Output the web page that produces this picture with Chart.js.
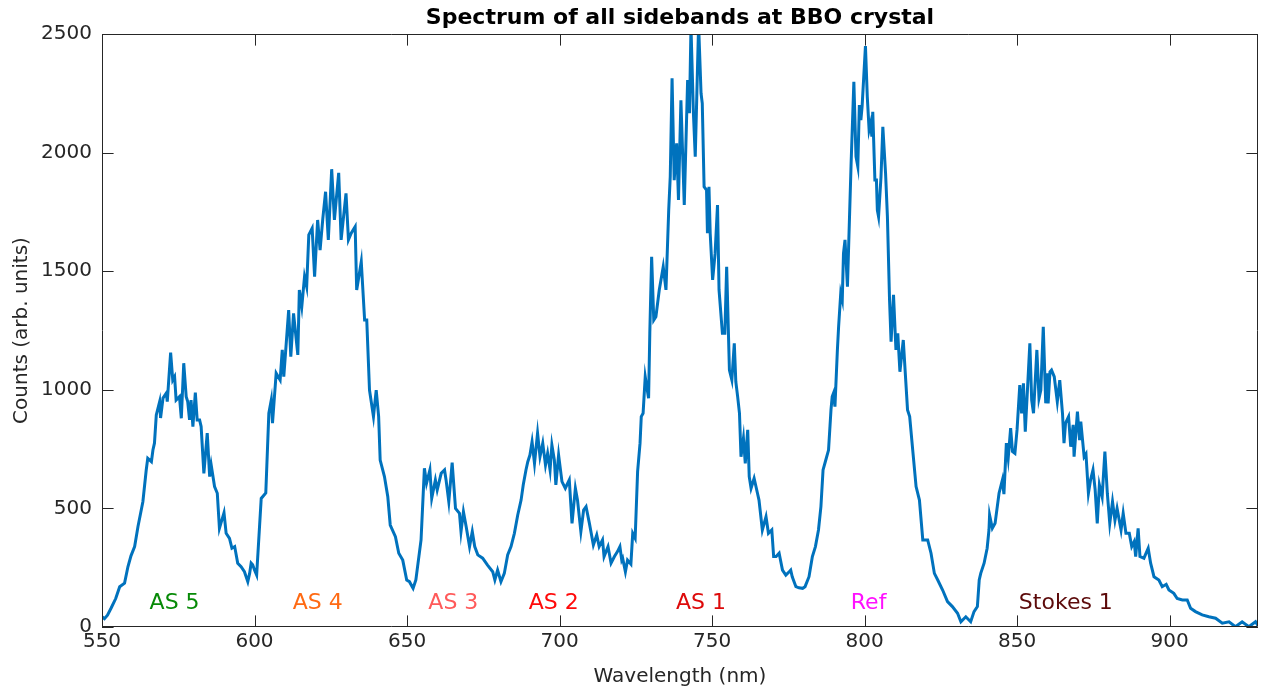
<!DOCTYPE html>
<html><head><meta charset="utf-8">
<script src="https://cdn.jsdelivr.net/npm/chart.js@4/dist/chart.umd.min.js"></script>
<style>html,body{margin:0;padding:0;background:#fff;overflow:hidden}#wrap{width:1263px;height:694px}</style>
</head><body><div id="wrap"><canvas id="c" width="1263" height="694"></canvas></div>
<script>
const wavelengths = [550.0,550.8,551.8,553.0,554.5,555.8,557.4,558.5,559.5,560.7,561.8,563.4,564.5,565.0,566.2,566.7,567.2,567.8,568.9,569.2,570.0,571.1,571.4,572.5,573.2,573.8,574.3,575.4,576.0,576.8,577.6,578.1,578.7,579.2,579.8,580.6,581.2,582.0,582.5,583.4,584.5,585.3,585.8,586.9,587.8,588.5,590.0,590.7,591.8,592.6,593.5,594.5,595.6,596.7,597.8,598.4,598.9,599.4,600.0,600.7,602.2,603.7,604.7,605.5,605.9,607.1,608.4,609.1,609.6,610.4,611.2,611.9,612.8,614.2,614.7,615.5,616.4,617.1,617.8,618.9,619.7,620.7,621.5,622.4,623.3,624.2,625.3,626.2,627.6,628.4,630.0,630.8,631.7,633.0,633.5,635.0,636.1,636.8,637.7,639.0,639.9,640.7,641.2,642.6,643.7,644.5,646.2,647.3,648.6,649.9,650.8,651.7,652.0,652.9,654.6,655.7,656.4,657.5,658.1,659.3,659.9,661.2,662.3,662.8,663.7,664.8,665.9,667.2,667.7,668.5,669.4,670.5,671.4,672.2,673.2,674.8,676.4,678.1,678.8,679.7,680.8,681.9,683.0,684.1,685.2,686.3,687.4,688.1,689.0,689.6,690.3,691.0,691.8,692.8,693.6,694.5,695.4,696.1,696.9,697.5,698.3,698.8,699.7,700.8,701.9,703.2,704.1,705.2,705.9,707.0,707.9,708.7,709.8,711.1,712.2,713.0,714.1,714.6,715.9,716.9,718.0,719.0,719.8,720.4,720.7,721.6,722.3,723.4,724.0,724.8,725.6,726.4,726.8,727.4,728.1,729.2,729.6,730.2,730.9,731.6,732.7,734.0,734.9,735.8,736.3,736.9,737.6,738.4,739.0,739.8,740.9,742.0,742.6,743.1,743.9,744.5,745.0,745.6,746.4,746.8,747.4,748.2,748.5,749.0,749.4,750.2,751.0,751.8,752.3,753.4,754.2,754.8,755.7,756.5,757.3,757.8,758.4,759.0,759.5,760.3,760.9,761.7,762.2,762.8,763.8,764.9,765.4,766.5,767.7,768.5,769.6,770.2,771.0,772.0,773.1,774.2,775.3,775.8,776.3,777.5,778.5,779.7,780.5,781.8,782.9,783.9,784.9,785.7,786.4,787.3,788.2,789.0,789.4,789.8,790.3,791.1,791.5,792.2,792.7,793.1,793.6,794.4,795.6,796.5,797.2,797.8,798.3,798.8,799.2,800.3,800.9,801.5,802.0,802.4,802.7,803.4,803.9,804.2,804.6,805.4,806.0,806.9,807.5,808.2,808.7,809.5,810.3,810.9,811.6,812.7,813.3,814.1,814.8,815.8,816.9,818.0,819.1,820.7,821.8,822.9,824.0,825.6,827.2,828.8,830.5,831.6,833.2,834.8,835.9,837.0,837.6,838.1,839.2,840.2,840.8,841.0,841.9,842.8,844.1,845.2,845.7,846.5,847.1,847.9,848.5,849.3,850.0,850.9,851.5,852.1,852.7,854.2,854.8,855.4,856.5,857.2,857.8,858.6,859.4,859.9,860.2,860.8,861.3,862.2,863.2,864.0,864.9,865.4,865.9,866.9,867.6,868.4,868.7,869.8,870.5,870.9,872.0,872.6,873.4,874.1,874.9,875.6,876.3,877.0,877.9,878.8,879.6,880.4,881.3,882.1,882.8,884.1,884.8,885.7,886.8,887.6,888.4,888.9,889.7,890.3,891.6,893.0,893.8,894.9,896.5,897.6,898.9,899.8,901.4,902.5,904.2,905.8,906.9,908.5,910.7,912.9,915.1,917.3,919.5,921.6,923.8,926.0,928.2,929.0];
const counts = [43,35,50,80,120,170,185,254,300,339,424,528,662,711,697,746,775,894,950,881,965,986,950,1157,1041,1055,957,971,880,1112,971,950,873,957,845,988,873,873,845,648,817,634,683,592,564,416,482,395,374,332,339,269,254,233,191,226,269,262,240,219,542,565,901,957,859,1070,1041,1168,1055,1196,1336,1140,1322,1147,1421,1350,1477,1435,1653,1681,1477,1716,1589,1723,1835,1632,1930,1716,1915,1632,1828,1632,1660,1688,1421,1540,1294,1294,999,887,999,887,704,634,549,430,381,311,282,198,191,170,163,198,367,669,606,662,543,620,578,648,662,620,528,693,500,479,402,486,423,339,402,339,304,290,261,233,198,240,191,226,304,339,395,472,535,599,662,697,725,781,690,817,718,775,683,732,662,767,704,599,725,613,585,620,437,585,535,402,493,507,437,346,388,339,367,297,339,269,297,318,339,282,290,233,282,265,395,374,655,775,887,901,1055,964,1238,1561,1294,1308,1421,1519,1421,1758,1898,2313,1884,2039,1800,2221,1779,2306,2166,2530,2166,1983,2236,2540,2250,2208,1856,1842,1660,1856,1660,1463,1574,1779,1421,1238,1238,1519,1083,1041,1196,1034,971,901,718,796,690,831,634,585,627,564,535,409,465,395,409,297,297,311,240,219,233,240,212,170,165,163,170,212,297,339,409,507,662,704,746,915,971,985,929,1168,1266,1407,1379,1575,1632,1435,1955,2299,1983,1941,2201,2137,2194,2449,2236,2096,2124,2067,2172,1884,1884,1758,1730,1898,2109,1912,1730,1379,1203,1400,1168,1238,1076,1210,1083,915,887,746,592,535,367,367,311,226,198,156,107,86,58,22,43,22,65,86,198,226,269,332,409,472,416,437,564,620,560,775,711,838,740,732,831,1020,901,1027,823,1196,957,901,1168,964,999,1266,943,1070,943,1076,1083,1055,950,1041,901,775,859,887,760,852,718,908,788,866,718,730,564,620,662,580,437,599,549,739,564,437,528,450,500,409,479,395,395,339,360,297,416,297,290,332,269,212,198,170,180,156,142,120,114,114,79,65,51,43,37,16,22,1,22,1,22,5];
const xTickValues = [550,600,650,700,750,800,850,900];
const yTickValues = [0,500,1000,1500,2000,2500];
const titleText = 'Spectrum of all sidebands at BBO crystal';
const bandLabels = ['AS 5','AS 4','AS 3','AS 2','AS 1','Ref','Stokes 1'];
const bandLabelX = [565.6,612.5,657,689.9,738.2,795.5,850.6];
const bandLabelY = [100,100,100,100,100,100,100];
const bandColors = ['#078a07','#ff6a13','#ff5a5a','#ff0a0a','#dd0a0a','#ff10ff','#5c0a0a'];

const FONT = 'DejaVu Sans';
const AXC = '#262626';

const points = wavelengths.map((w,i)=>({x:w,y:counts[i]}));

const boxPlugin = {
  id:'boxTicks',
  afterDraw(chart){
    const {ctx, chartArea:a, scales:{x,y}} = chart;
    const L = 11.6;
    ctx.save();
    ctx.strokeStyle = AXC; ctx.lineWidth = 1;
    ctx.beginPath();
    ctx.rect(Math.round(a.left)+0.5, Math.round(a.top)+0.5, Math.round(a.right-a.left)-1, Math.round(a.bottom-a.top)-1);
    xTickValues.forEach(v=>{
      const px = Math.round(x.getPixelForValue(v))+0.5;
      ctx.moveTo(px,a.bottom); ctx.lineTo(px,a.bottom-L);
      ctx.moveTo(px,a.top); ctx.lineTo(px,a.top+L);
    });
    yTickValues.forEach(v=>{
      const py = Math.round(y.getPixelForValue(v))+0.5;
      ctx.moveTo(a.left,py); ctx.lineTo(a.left+L,py);
      ctx.moveTo(a.right,py); ctx.lineTo(a.right-L,py);
    });
    ctx.stroke();
    ctx.font = '22px "'+FONT+'"';
    ctx.textAlign='left'; ctx.textBaseline='middle';
    bandLabels.forEach((t,i)=>{
      ctx.fillStyle = bandColors[i];
      ctx.fillText(t, x.getPixelForValue(bandLabelX[i]), y.getPixelForValue(bandLabelY[i]));
    });
    ctx.fillStyle = '#000';
    ctx.font = 'bold 22px "'+FONT+'"';
    ctx.textAlign='center'; ctx.textBaseline='alphabetic';
    ctx.fillText(titleText, (a.left+a.right)/2, 24);
    ctx.restore();
  }
};

new Chart(document.getElementById('c'), {
  type:'line',
  data:{datasets:[{data:points, borderColor:'#0072BD', borderWidth:3, pointRadius:0, tension:0, fill:false, clip:0}]},
  options:{
    responsive:false, animation:false, parsing:true,
    layout:{padding:{left:0,right:5,top:34,bottom:0}},
    plugins:{legend:{display:false}, tooltip:{enabled:false}, title:{display:false}},
    scales:{
      x:{type:'linear', min:550, max:929,
        afterFit(s){s.height=67;},
        afterBuildTicks(s){s.ticks = xTickValues.map(v=>({value:v}));},
        grid:{display:false, drawTicks:false}, border:{display:false},
        ticks:{color:AXC, padding:3, font:{family:FONT,size:20}, maxRotation:0, autoSkip:false, callback:v=>String(v)},
        title:{display:true, text:'Wavelength (nm)', color:AXC, font:{family:FONT,size:20}, padding:{top:0,bottom:5}}
      },
      y:{type:'linear', min:0, max:2500,
        afterFit(s){s.width=102;},
        afterBuildTicks(s){s.ticks = yTickValues.map(v=>({value:v}));},
        grid:{display:false, drawTicks:false}, border:{display:false},
        ticks:{color:AXC, padding:10, font:{family:FONT,size:20}, callback:v=>String(v)},
        title:{display:true, text:'Counts (arb. units)', color:AXC, font:{family:FONT,size:20}, padding:{top:10,bottom:0}}
      }
    }
  },
  plugins:[boxPlugin]
});
</script></body></html>
